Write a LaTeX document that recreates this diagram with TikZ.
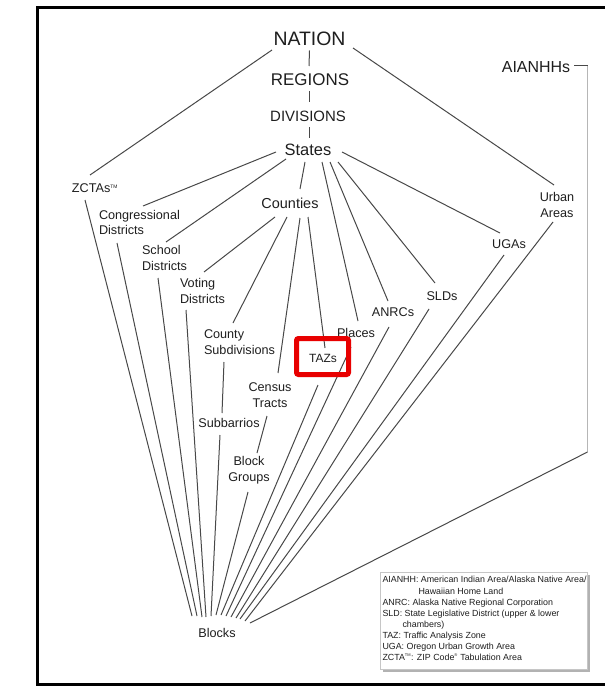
\documentclass[tikz,border=0pt]{standalone}
\usepackage{fontspec}
\setmainfont{Liberation Sans}
\definecolor{txt}{HTML}{1E1E1E}
\definecolor{ln}{HTML}{484848}
\definecolor{hl}{HTML}{E80000}
\newcommand\myfs[2]{\fontsize{#1}{#2}\selectfont}
\newcommand\smalltm{\textsuperscript{\fontsize{5}{5}\selectfont TM}}
\tikzset{
  lbl/.style={inner sep=0pt, outer sep=0pt, text=txt, font=\myfs{12.7}{16}},
  conn/.style={draw=ln, line width=1bp},
}
\begin{document}
\begin{tikzpicture}[x=1bp,y=-1bp]
\useasboundingbox (0,0) rectangle (605,687);
\draw[line width=3bp] (606,7.5) -- (37.5,7.5) -- (37.5,684.5) -- (606,684.5);

% nodes
\node[lbl,font=\myfs{19.5}{20}] (nation) at (309.5,38.5) {NATION};
\node[lbl,font=\myfs{17}{18}] (regions) at (310,80) {REGIONS};
\node[lbl,font=\myfs{15}{16}] (divisions) at (308,116) {DIVISIONS};
\node[lbl,font=\myfs{16.5}{18}] (states) at (308,150) {States};
\node[lbl,font=\myfs{16}{18}] (aianhh) at (536,67) {AIANHHs};
\node[lbl] (zcta) at (95,188) {ZCTAs\smalltm};
\node[lbl,align=left,anchor=west] (cong) at (99,222.5) {Congressional\\Districts};
\node[lbl,align=left,anchor=west] (school) at (142,258) {School\\Districts};
\node[lbl,align=left,anchor=west] (voting) at (180,291) {Voting\\Districts};
\node[lbl,font=\myfs{14.5}{16}] (counties) at (290,203) {Counties};
\node[lbl,align=left,anchor=west] (cosub) at (204,342) {County\\Subdivisions};
\node[lbl,align=center] (tracts) at (270,395) {Census\\Tracts};
\node[lbl] (subb) at (229,423) {Subbarrios};
\node[lbl,align=center] (bg) at (249,470) {Block\\Groups};
\node[lbl,font=\myfs{12}{14}] (taz) at (323,358) {TAZs};
\node[lbl] (places) at (356,333) {Places};
\node[lbl] (anrcs) at (393,312) {ANRCs};
\node[lbl] (slds) at (442,296) {SLDs};
\node[lbl] (ugas) at (509,244) {UGAs};
\node[lbl,align=center] (urban) at (557,205) {Urban\\Areas};
\node[lbl] (blocks) at (217,633) {Blocks};

% top chain
\draw[conn] ([shift={(0,12)}]nation.center) -- ([shift={(-1,-14)}]regions.center);
\draw[conn] ([shift={(-1,11)}]regions.center) -- ([shift={(1,-14)}]divisions.center);
\draw[conn] ([shift={(1,11)}]divisions.center) -- ([shift={(1,-12)}]states.center);
\draw[conn] ([shift={(-37.5,11.5)}]nation.center) -- ([shift={(-5,-13)}]zcta.center);
\draw[conn] ([shift={(43.5,9.5)}]nation.center) -- ([shift={(-3,-20)}]urban.center);

% from States
\draw[conn] ([shift={(-32,2)}]states.center) -- ([shift={(44,-16.5)}]cong.west);
\draw[conn] ([shift={(-22,9)}]states.center) -- ([shift={(24,-16)}]school.west);
\draw[conn] ([shift={(-3,12)}]states.center) -- ([shift={(10,-14)}]counties.center);
\draw[conn] ([shift={(14,12)}]states.center) -- ([shift={(2,-12)}]places.center);
\draw[conn] ([shift={(22,12)}]states.center) -- ([shift={(-5,-11)}]anrcs.center);
\draw[conn] ([shift={(30,12)}]states.center) -- ([shift={(-7,-13)}]slds.center);
\draw[conn] ([shift={(34,2)}]states.center) -- ([shift={(-9,-11)}]ugas.center);

% from Counties
\draw[conn] ([shift={(-15,14)}]counties.center) -- ([shift={(24,-19)}]voting.west);
\draw[conn] ([shift={(-3,14)}]counties.center) -- ([shift={(29,-19)}]cosub.west);
\draw[conn] ([shift={(10,15)}]counties.center) -- ([shift={(8,-22)}]tracts.center);
\draw[conn] ([shift={(18,14)}]counties.center) -- ([shift={(2,-10)}]taz.center);

% second level
\draw[conn] ([shift={(20,20)}]cosub.west) -- ([shift={(-7,-10)}]subb.center);
\draw[conn] ([shift={(-3,21)}]tracts.center) -- ([shift={(8,-17)}]bg.center);

% into Blocks
\draw[conn] ([shift={(-10,12)}]zcta.center) -- ([shift={(-25,-17)}]blocks.center);
\draw[conn] ([shift={(18,20.5)}]cong.west) -- ([shift={(-20,-17)}]blocks.center);
\draw[conn] ([shift={(16,20)}]school.west) -- ([shift={(-15,-16)}]blocks.center);
\draw[conn] ([shift={(6,19)}]voting.west) -- ([shift={(-11,-16)}]blocks.center);
\draw[conn] ([shift={(-9,12)}]subb.center) -- ([shift={(-6,-17)}]blocks.center);
\draw[conn] ([shift={(-1,22)}]bg.center) -- ([shift={(-1,-18)}]blocks.center);
\draw[conn] ([shift={(-5,27)}]taz.center) -- ([shift={(4,-18)}]blocks.center);
\draw[conn] ([shift={(-5,14)}]places.center) -- ([shift={(9,-17)}]blocks.center);
\draw[conn] ([shift={(-4,15)}]anrcs.center) -- ([shift={(14,-16)}]blocks.center);
\draw[conn] ([shift={(-13,13)}]slds.center) -- ([shift={(19,-15)}]blocks.center);
\draw[conn] ([shift={(-5,11)}]ugas.center) -- ([shift={(23,-14)}]blocks.center);
\draw[conn] ([shift={(-4,17)}]urban.center) -- ([shift={(28,-12)}]blocks.center);

% AIANHHs connector
\coordinate (ai1) at (587.5,66);
\coordinate (ai2) at (587.5,452);
\draw[conn] ([shift={(38,-1)}]aianhh.center) -- (ai1);
\draw[draw=ln!40, line width=0.9bp] (ai1) -- (ai2);
\draw[conn] (ai2) -- ([shift={(33,-10)}]blocks.center);

% highlight
\draw[hl, line width=5bp, rounded corners=2bp] ([shift={(-26.5,-19.5)}]taz.center) rectangle ([shift={(25.5,16.5)}]taz.center);

% legend
\fill[gray!60] (383,575) rectangle (590,672);
\draw[gray!45, fill=white, line width=0.8bp] (380,572) rectangle (587,669);
\node[lbl, font=\myfs{8.9}{11.15}, align=left, anchor=north west] (legend) at (382.5,576.5) {%
AIANHH: American Indian Area/Alaska Native Area/\\
\hspace*{36bp}Hawaiian Home Land\\
ANRC: Alaska Native Regional Corporation\\
SLD: State Legislative District (upper \& lower\\
\hspace*{20bp}chambers)\\
TAZ: Traffic Analysis Zone\\
UGA: Oregon Urban Growth Area\\
ZCTA\textsuperscript{\fontsize{4}{4}\selectfont TM}: ZIP Code\textsuperscript{\fontsize{4}{4}\selectfont ®} Tabulation Area};
\end{tikzpicture}
\end{document}
